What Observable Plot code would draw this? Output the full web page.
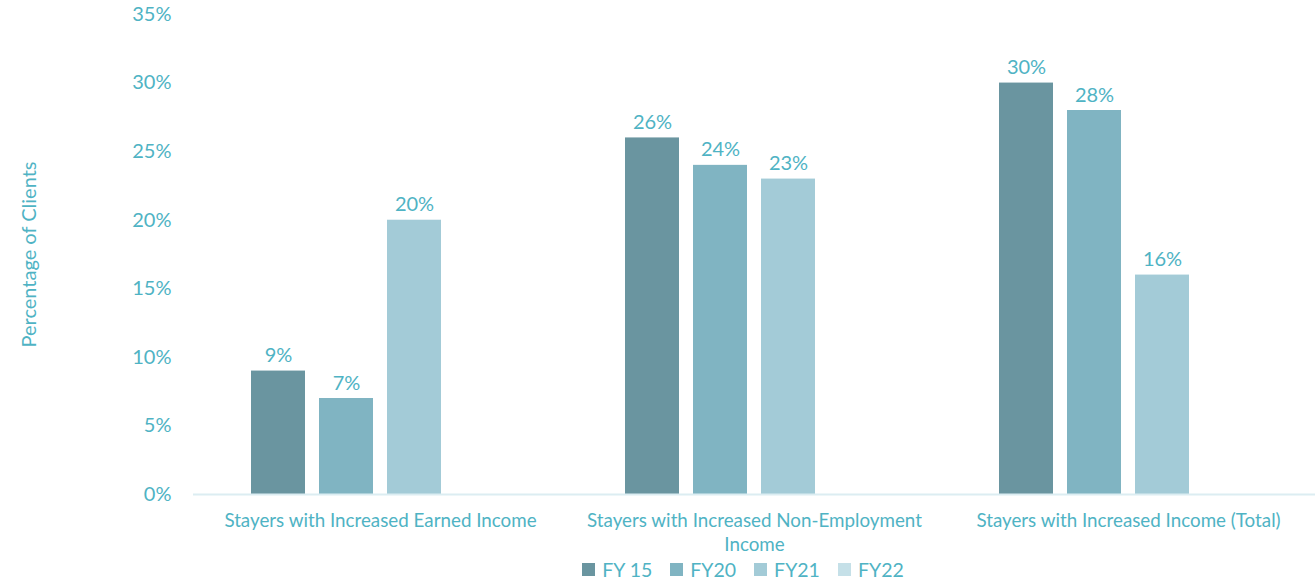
<!DOCTYPE html>
<html>
<head>
<meta charset="utf-8">
<script src="https://cdn.jsdelivr.net/npm/d3@7"></script>
<script src="https://cdn.jsdelivr.net/npm/@observablehq/plot@0.6"></script>
<style>
  html, body { margin: 0; padding: 0; background: #fff; }
  #chart { width: 1316px; height: 555px; }
  #legend { display: flex; justify-content: center; gap: 18px; font-family: Lato, "Open Sans", sans-serif; font-size: 19.5px; color: #4fb3c4; height: 28px; align-items: center; padding-left: 170px; }
  #legend .item { display: flex; align-items: center; gap: 7px; }
  #legend .sw { width: 13px; height: 13px; display: inline-block; }
</style>
</head>
<body>
<div id="chart"></div>
<div id="legend"></div>
<script>
const categories = [
  "Stayers with Increased Earned Income",
  "Stayers with Increased Non-Employment Income",
  "Stayers with Increased Income (Total)"
];
const categoryLabels = [
  "Stayers with Increased Earned Income",
  "Stayers with Increased Non-Employment\nIncome",
  "Stayers with Increased Income (Total)"
];
const seriesNames = ["FY 15", "FY20", "FY21", "FY22"];
const fy15 = [9, 26, 30];
const fy20 = [7, 24, 28];
const fy21 = [20, 23, 16];
const fy22 = [null, null, null];
const seriesColors = ["#6a95a0", "#80b4c2", "#a3cbd7", "#c5e0e8"];
const yTicks = [0, 5, 10, 15, 20, 25, 30, 35];

const seriesValues = [fy15, fy20, fy21, fy22];
const data = [];
categories.forEach((c, i) => {
  seriesNames.forEach((s, j) => {
    const v = seriesValues[j][i];
    if (v != null) data.push({category: c, series: s, value: v});
  });
});
const labelMap = new Map(categories.map((c, i) => [c, categoryLabels[i]]));

const textColor = "#4fb3c4";
const chart = Plot.plot({
  width: 1316,
  height: 555,
  marginTop: 14,
  marginLeft: 192,
  marginRight: 1,
  marginBottom: 61,
  style: {fontFamily: "Lato, 'Open Sans', sans-serif", fontSize: "20px", color: textColor, background: "#fff", overflow: "visible"},
  fx: {domain: categories, padding: 0},
  x: {domain: seriesNames, paddingInner: 0.206, paddingOuter: 0.853, axis: null},
  y: {domain: [0, 35], ticks: yTicks},
  color: {domain: seriesNames, range: seriesColors},
  marks: [
    Plot.axisY({ticks: yTicks, tickSize: 0, tickPadding: 22, tickFormat: d => d + "%", fontSize: 20,
      label: "Percentage of Clients", labelAnchor: "center", labelOffset: 172, labelArrow: "none"}),
    Plot.axisFx({anchor: "bottom", tickSize: 0, tickPadding: 15, fontSize: 18.8, label: null, tickFormat: d => labelMap.get(d), lineHeight: 1.3}),
    Plot.barY(data, {fx: "category", x: "series", y: "value", fill: "series"}),
    Plot.ruleY([0], {stroke: "#dcedf2", strokeWidth: 2}),
    Plot.text(data, {fx: "category", x: "series", y: "value", text: d => d.value + "%", lineAnchor: "bottom", dy: -9, fill: textColor, fontSize: 20})
  ]
});
document.getElementById("chart").appendChild(chart);

const legend = document.getElementById("legend");
seriesNames.forEach((s, i) => {
  const item = document.createElement("span");
  item.className = "item";
  const sw = document.createElement("span");
  sw.className = "sw";
  sw.style.background = seriesColors[i];
  item.appendChild(sw);
  item.appendChild(document.createTextNode(s));
  legend.appendChild(item);
});
</script>
</body>
</html>
